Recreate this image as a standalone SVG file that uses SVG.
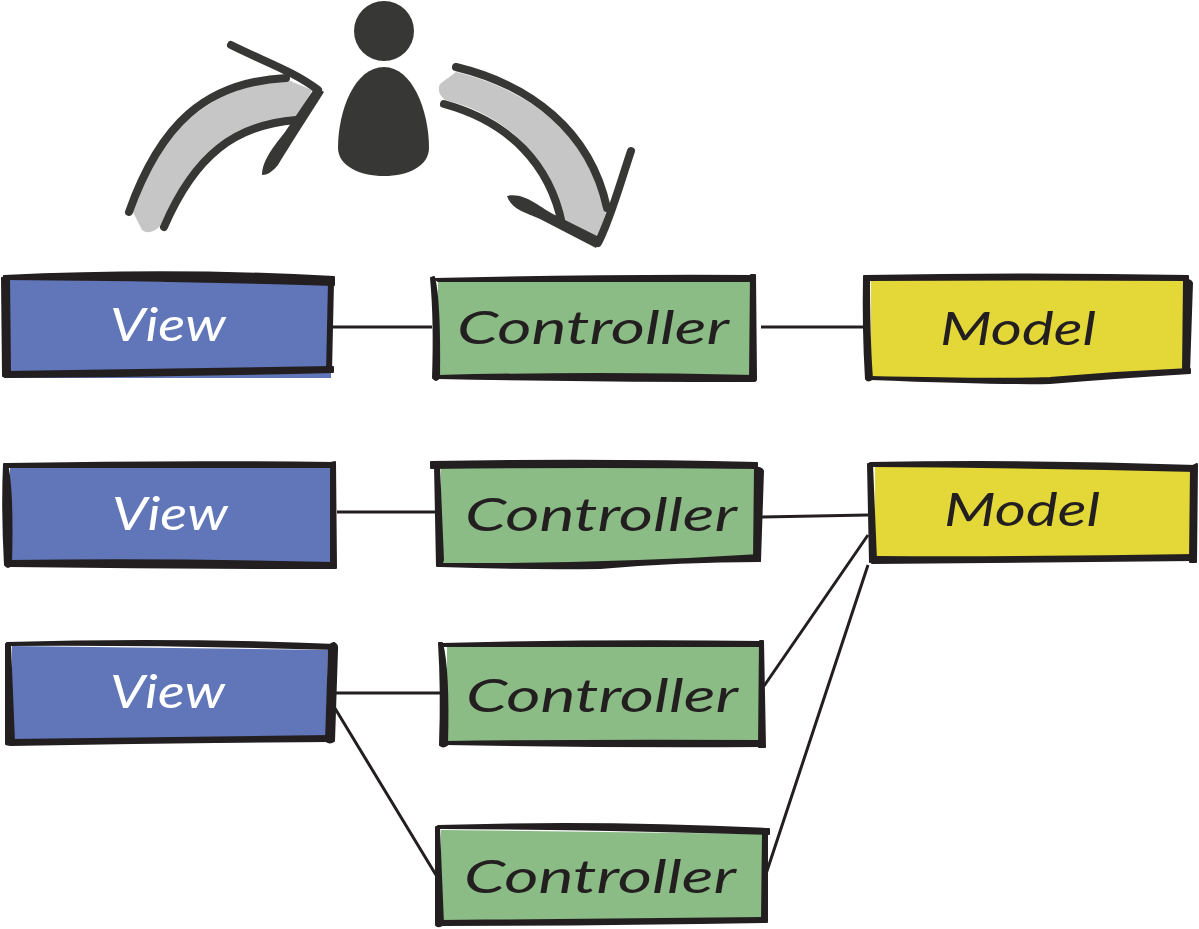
<svg xmlns="http://www.w3.org/2000/svg" width="1199" height="929" viewBox="0 0 1199 929">
<style>
.ink{fill:#231f20;stroke:#231f20;stroke-width:2;stroke-linejoin:round}
.conn{stroke:#231f20;stroke-width:3;fill:none}
.v{fill:#6076b8}.c{fill:#8bbc85}.m{fill:#e3d838}
.t{font-family:"Lato","Noto Sans",sans-serif;font-style:italic;font-size:46px;text-anchor:start}
.dk{fill:#231f20}.wh{fill:#fff}
.p{fill:#373735}.pl{fill:none;stroke:#373735;stroke-width:8;stroke-linecap:round}
.g{fill:#c6c6c6}
</style>
<rect width="1199" height="929" fill="#fff"/>
<g id="connectors">
<path class="conn" d="M333 327H432M761 327H864M337 512H440M762 517L868 515M333 693H440M333 705L436 875M764 686L868 535M765 877L868 565"/>
</g>
<g id="user">
<circle class="p" cx="384" cy="31" r="30"/>
<path class="p" d="M384 67C355 67 338 110 338 148C338 166 360 176 384 176C408 176 429 166 429 148C429 110 412 67 384 67Z"/>
</g>
<g id="arrow-left">
<path class="g" d="M133 212C160 130 210 85 288 80L312 90L296 120C240 122 190 160 160 226Q150 236 142 230Q138 222 133 212Z"/>
<path class="pl" d="M129 212C160 125 205 82 286 78"/>
<path class="pl" d="M164 227C195 155 235 125 296 120"/>
<path class="pl" d="M231 45C265 62 295 72 318 90"/>
<path class="p" d="M316 86L324 92C305 122 290 145 278 165Q270 175 262 175C262 160 275 145 285 132Z"/>
</g>
<g id="arrow-right">
<path class="g" d="M456 72C530 90 590 135 606 212L598 240L565 224C555 165 510 115 445 100Q436 92 440 84Q448 78 456 72Z"/>
<path class="pl" d="M456 67C530 85 590 130 607 208"/>
<path class="pl" d="M444 104C510 122 550 165 562 224"/>
<path class="pl" d="M631 151C618 190 610 220 598 243"/>
<path class="p" d="M507 196C525 192 540 208 555 215L601 238L596 248L540 219C525 212 512 210 507 196Z"/>
</g>
<g id="view-1">
<path class="v" d="M9 279L330 284L331 378H9Z"/>
<path class="ink" d="M4 276Q170 268 334 277L334 285Q170 280 5 279Z"/>
<path class="ink" d="M2 278L9 276L10 374Q7 378 3 376Z"/>
<path class="ink" d="M329 282L333 282L331 372L327 372Z"/>
<path class="ink" d="M5 372Q170 370 333 367L333 372Q170 376 5 377Z"/>
<text class="t wh" x="110" y="341" textLength="116" lengthAdjust="spacingAndGlyphs">View</text>
</g>
<g id="controller-1">
<path class="c" d="M438 279H751V377H438Z"/>
<path class="ink" d="M435 279Q600 275 754 276L754 281Q600 281 438 281Z"/>
<path class="ink" d="M431 278L434 277Q440 300 439 378Q436 382 433 378Q435 320 431 278Z"/>
<path class="ink" d="M751 275L755 275L756 380L750 380Z"/>
<path class="ink" d="M438 376Q600 372 755 376L755 381Q600 381 438 378Z"/>
<text class="t dk" x="457" y="344" textLength="272" lengthAdjust="spacingAndGlyphs">Controller</text>
</g>
<g id="model-1">
<path class="m" d="M871 279H1185L1184 372Q1050 382 871 378Z"/>
<path class="ink" d="M865 276Q1030 273 1188 276L1188 280Q1030 279 866 280Z"/>
<path class="ink" d="M864 276L869 276Q869 340 872 379Q868 382 866 379Q863 330 864 276Z"/>
<path class="ink" d="M1184 280Q1190 279 1192 283L1189 373L1183 373Z"/>
<path class="ink" d="M870 377Q1000 380 1050 378Q1120 372 1190 369L1190 373Q1110 378 1050 383Q1000 384 870 379Z"/>
<text class="t dk" x="940" y="345" textLength="156" lengthAdjust="spacingAndGlyphs">Model</text>
</g>
<g id="view-2">
<path class="v" d="M10 467H331V563H10Z"/>
<path class="ink" d="M6 464Q170 461 334 463L334 467Q170 467 8 467Z"/>
<path class="ink" d="M4 464L7 464Q13 490 11 565Q8 569 5 565Q2 510 4 464Z"/>
<path class="ink" d="M331 463L335 462L336 568L331 568Z"/>
<path class="ink" d="M10 561Q170 559 333 563L333 568Q170 568 10 566Z"/>
<text class="t wh" x="112" y="530" textLength="116" lengthAdjust="spacingAndGlyphs">View</text>
</g>
<g id="controller-2">
<path class="c" d="M441 468H760V560Q600 562 441 566Z"/>
<path class="ink" d="M431 462Q600 459 757 463L757 468Q600 466 431 468Z"/>
<path class="ink" d="M435 465L439 465L443 560L441 566L437 566Z"/>
<path class="ink" d="M755 468Q761 467 763 471L760 561L754 561Z"/>
<path class="ink" d="M441 564Q600 565 760 555L760 561Q680 561 600 568Q520 569 441 566Z"/>
<text class="t dk" x="465" y="531" textLength="272" lengthAdjust="spacingAndGlyphs">Controller</text>
</g>
<g id="model-2">
<path class="m" d="M875 466H1192V561H875Z"/>
<path class="ink" d="M870 463Q1030 460 1196 466L1196 471Q1030 467 872 466Z"/>
<path class="ink" d="M868 464L872 464L876 560L870 562Z"/>
<path class="ink" d="M1191 467L1197 464L1196 562L1190 562Z"/>
<path class="ink" d="M874 557Q1030 558 1195 555L1195 560Q1030 562 872 563Z"/>
<text class="t dk" x="944" y="526" textLength="156" lengthAdjust="spacingAndGlyphs">Model</text>
</g>
<g id="view-3">
<path class="v" d="M12 646L328 650L326 742Q170 742 12 745Z"/>
<path class="ink" d="M7 643Q170 638 336 645L336 649Q170 644 8 645Z"/>
<path class="ink" d="M6 644L10 644L14 742Q10 746 6 744Z"/>
<path class="ink" d="M329 649Q330 643 334 643Q338 645 337 650L334 741Q330 744 326 741Z"/>
<path class="ink" d="M10 740Q170 738 331 736L331 741Q170 742 10 745Z"/>
<text class="t wh" x="110" y="708" textLength="115" lengthAdjust="spacingAndGlyphs">View</text>
</g>
<g id="controller-3">
<path class="c" d="M447 646H760V741H447Z"/>
<path class="ink" d="M442 644Q600 640 761 642L761 646Q600 646 444 646Z"/>
<path class="ink" d="M439 643L442 643Q449 670 447 745Q443 748 440 745Q442 690 439 643Z"/>
<path class="ink" d="M760 641L763 641L765 747L759 747Z"/>
<path class="ink" d="M445 742Q600 740 760 741L765 746Q600 747 445 744Z"/>
<text class="t dk" x="466" y="712" textLength="272" lengthAdjust="spacingAndGlyphs">Controller</text>
</g>
<g id="controller-4">
<path class="c" d="M441 830L763 834V920H441Z"/>
<path class="ink" d="M438 826Q600 821 769 829L769 834Q600 829 440 828Z"/>
<path class="ink" d="M436 827L439 827L443 924Q439 928 436 925Z"/>
<path class="ink" d="M763 833L767 833L767 920L762 920Z"/>
<path class="ink" d="M440 921Q600 920 767 918L767 922Q600 925 440 925Z"/>
<text class="t dk" x="464" y="893" textLength="272" lengthAdjust="spacingAndGlyphs">Controller</text>
</g>
</svg>
